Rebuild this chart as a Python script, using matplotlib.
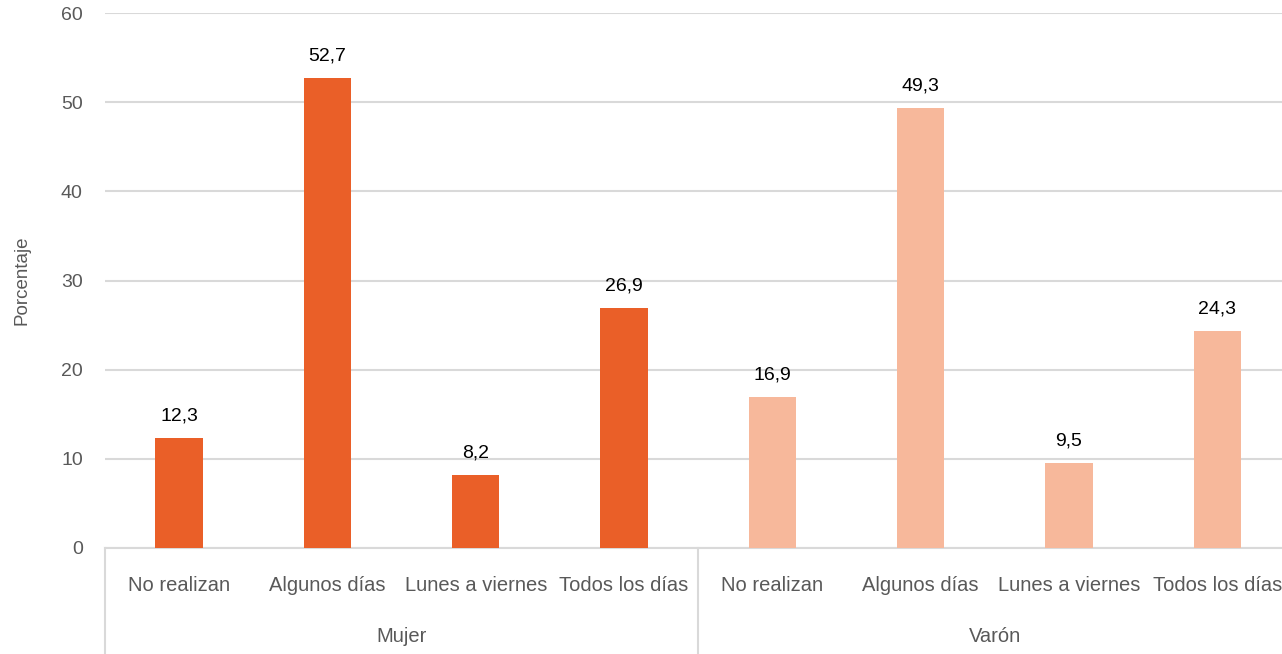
import matplotlib
matplotlib.use("Agg")
import matplotlib.pyplot as plt
from matplotlib.transforms import blended_transform_factory

plt.rcParams['font.family'] = ['Liberation Sans', 'DejaVu Sans']

categories = ["No realizan", "Algunos días", "Lunes a viernes", "Todos los días"]
groups = ["Mujer", "Varón"]
mujer = [12.3, 52.7, 8.2, 26.9]
varon = [16.9, 49.3, 9.5, 24.3]
yticks = [0, 10, 20, 30, 40, 50, 60]

c_dark = "#EA5F28"
c_light = "#F7B89B"
gray_txt = "#595959"
grid_c = "#D9D9D9"

W, H = 1282, 654
fig = plt.figure(figsize=(W / 100, H / 100), dpi=100)
ax = fig.add_axes([105 / W, 106 / H, 1186.4 / W, 535 / H])

values = mujer + varon
colors = [c_dark] * len(mujer) + [c_light] * len(varon)
xs = list(range(len(values)))
ax.bar(xs, values, width=0.32, color=colors, zorder=3)

for x, v in zip(xs, values):
    ax.annotate(f"{v:.1f}".replace(".", ","), (x, v), xytext=(0, 16),
                textcoords="offset points", ha="center", va="center",
                fontsize=14, color="black")

ax.set_xlim(-0.5, len(values) - 0.5)
ax.set_ylim(0, 60)
ax.set_yticks(yticks)
ax.set_yticklabels([str(t) for t in yticks], fontsize=14, color=gray_txt)
ax.tick_params(axis='y', length=0, pad=16)
ax.yaxis.grid(True, color=grid_c, linewidth=1.5, zorder=0)
for s in ["left", "right", "top"]:
    ax.spines[s].set_visible(False)
ax.spines["bottom"].set_color(grid_c)
ax.spines["bottom"].set_linewidth(1.5)

ax.set_xticks(xs)
ax.set_xticklabels(categories * 2, fontsize=14.5, color=gray_txt)
ax.tick_params(axis='x', length=0, pad=20)

ax.set_ylabel("Porcentaje", fontsize=13.5, color=gray_txt, labelpad=22)

trans = blended_transform_factory(ax.transData, ax.transAxes)
n = len(categories)
for g in range(len(groups) + 1):
    xb = g * n - 0.5
    ax.plot([xb, xb], [0, -0.2], transform=trans, color=grid_c, linewidth=1.5,
            clip_on=False)
for g, name in enumerate(groups):
    xc = g * n + (n - 1) / 2
    ax.text(xc, -88 / 535, name, transform=trans, ha="center", va="center",
            fontsize=14.5, color=gray_txt)

fig.savefig("out.png", dpi=100)
